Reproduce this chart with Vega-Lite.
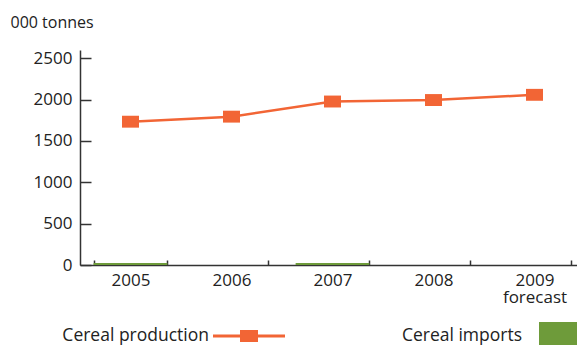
{
  "$schema": "https://vega.github.io/schema/vega-lite/v6.json",
  "width": 497,
  "height": 215,
  "autosize": {"type": "none"},
  "padding": {"left": 80, "top": 50, "right": 0, "bottom": 80},
  "background": "white",
  "config": {"view": {"stroke": null}, "font": "Open Sans", "legend": {"padding": 0}},
  "data": {
    "values": [
      {"year": "2005", "production": 1733, "imports": 25},
      {"year": "2006", "production": 1794, "imports": 0},
      {"year": "2007", "production": 1977, "imports": 25},
      {"year": "2008", "production": 1995, "imports": 0},
      {"year": "2009", "production": 2058, "imports": 0}
    ]
  },
  "layer": [
    {
      "mark": {"type": "bar"},
      "encoding": {
        "x": {
          "field": "year",
          "type": "ordinal",
          "scale": {"range": [0, 505], "paddingInner": 0.27, "paddingOuter": 0.135},
          "axis": {
            "title": null,
            "labelAngle": 0,
            "tickBand": "extent",
            "tickSize": -5,
            "tickWidth": 1.5,
            "tickColor": "#333",
            "domainColor": "#333",
            "domainWidth": 1.5,
            "labelFontSize": 17,
            "labelColor": "#222",
            "labelPadding": 12,
            "labelLineHeight": 17,
            "labelExpr": "datum.value == '2009' ? ['2009', 'forecast'] : datum.value"
          }
        },
        "y": {
          "field": "imports",
          "type": "quantitative",
          "scale": {"domain": [0, 2500]},
          "axis": {
            "title": "000 tonnes",
            "titleAngle": 0,
            "titleX": -70,
            "titleY": -23,
            "titleAlign": "left",
            "titleBaseline": "alphabetic",
            "titleFontSize": 16,
            "titleFontWeight": "normal",
            "titleColor": "#222",
            "values": [0, 500, 1000, 1500, 2000, 2500],
            "format": "d",
            "grid": false,
            "domainColor": "#333",
            "domainWidth": 1.5,
            "tickColor": "#333",
            "tickWidth": 1.5,
            "tickSize": -11,
            "labelFontSize": 17,
            "labelColor": "#222",
            "labelPadding": 19
          }
        },
        "fill": {
          "datum": "Cereal imports",
          "type": "nominal",
          "scale": {"range": ["#6e9b3a"]},
          "legend": {
            "orient": "none",
            "legendX": 459,
            "legendY": 272,
            "title": null,
            "labelAlign": "right",
            "labelBaseline": "alphabetic",
            "labelOffset": -55,
            "labelFontSize": 17.5,
            "labelColor": "#222",
            "labelLimit": 300,
            "symbolType": "square",
            "symbolSize": 1444,
            "symbolStrokeWidth": 0
          }
        }
      }
    },
    {
      "mark": {"type": "line", "strokeWidth": 2.5},
      "encoding": {
        "x": {"field": "year", "type": "ordinal"},
        "y": {"field": "production", "type": "quantitative"},
        "stroke": {
          "datum": "Cereal production",
          "type": "nominal",
          "scale": {"range": ["#f26535"]},
          "legend": {
            "orient": "none",
            "legendX": 133,
            "legendY": 250,
            "title": null,
            "labelAlign": "right",
            "labelBaseline": "middle",
            "labelOffset": -76,
            "labelFontSize": 17.5,
            "labelColor": "#222",
            "labelLimit": 300,
            "symbolType": "M-1,-0.042H-0.25V-0.167H0.25V-0.042H1V0.042H0.25V0.167H-0.25V0.042H-1Z",
            "symbolSize": 5184,
            "symbolStrokeWidth": 0,
            "encode": {"symbols": {"update": {"fill": {"value": "#f26535"}, "stroke": {"value": "transparent"}}}}
          }
        }
      }
    },
    {
      "mark": {"type": "point", "shape": "M-1,-0.7H1V0.7H-1Z", "size": 289, "filled": true, "color": "#f26535", "opacity": 1},
      "encoding": {
        "x": {"field": "year", "type": "ordinal"},
        "y": {"field": "production", "type": "quantitative"}
      }
    }
  ]
}
